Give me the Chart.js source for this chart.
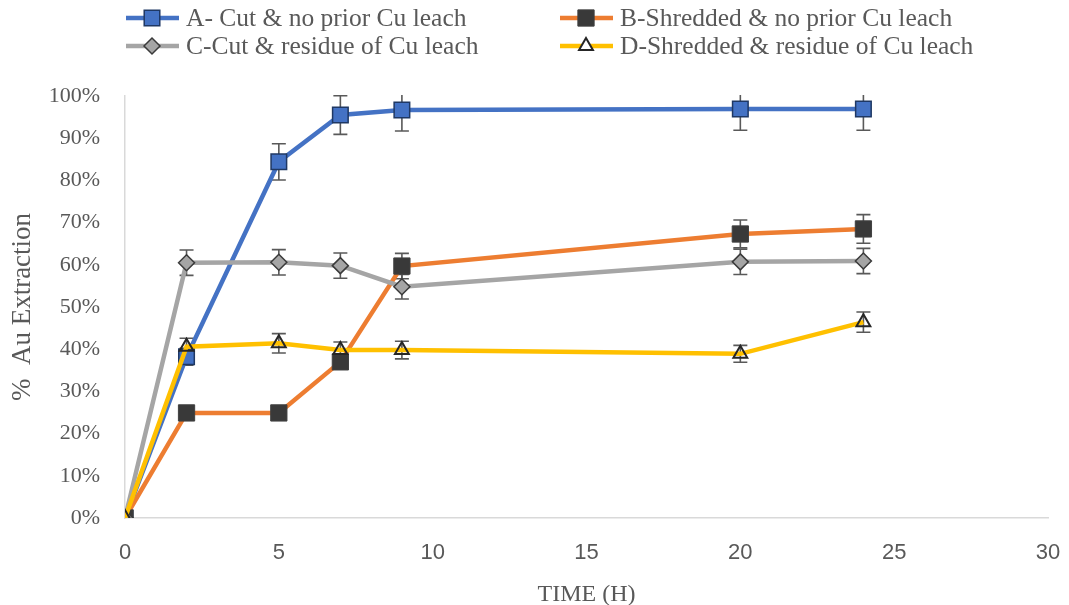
<!DOCTYPE html>
<html>
<head>
<meta charset="utf-8">
<script src="https://cdn.jsdelivr.net/npm/chart.js@4.4.1/dist/chart.umd.min.js"></script>
<style>
  html, body { margin: 0; padding: 0; background: #fff; }
  #wrap { width: 1069px; height: 605px; position: relative; }
</style>
</head>
<body>
<div id="wrap"><canvas id="extractionChart"></canvas></div>
<script>
// leach time (h) and % Au extraction
const timeHours = [0, 2, 5, 7, 9, 20, 24];
const cutNoLeach = [0, 38.2, 84.4, 95.5, 96.7, 96.9, 96.9];
const shreddedNoLeach = [0, 24.9, 24.9, 37.0, 59.7, 67.3, 68.5];
const cutResidue = [0, 60.5, 60.6, 59.8, 54.8, 60.7, 60.9];
const shreddedResidue = [0, 40.6, 41.4, 39.8, 39.8, 38.9, 46.4];

// error bar half-lengths (% points)
const errCutNoLeach = [0, 2, 4.3, 4.6, 5, 5, 5];
const errShreddedNoLeach = [0, 1, 1, 1, 3, 3.3, 3.4];
const errCutResidue = [0, 3, 3, 3, 2.9, 3, 3];
const errShreddedResidue = [0, 2, 2.3, 1.9, 2.1, 2, 2.4];

const seriesLabels = [
    'A- Cut & no prior Cu leach',
    'B-Shredded & no prior Cu leach',
    'C-Cut & residue of Cu leach',
    'D-Shredded & residue of Cu leach'
];
const xTicks = [0, 5, 10, 15, 20, 25, 30];
const yTicks = [0, 10, 20, 30, 40, 50, 60, 70, 80, 90, 100];

const serifFont = "'Liberation Serif', 'DejaVu Serif', serif";
const textGray = '#595959';

function toPoints(values) {
    return timeHours.map(function (t, i) { return { x: t, y: values[i] }; });
}

const errorBars = {
    id: 'errorBars',
    beforeDatasetsDraw(chart) {
        const ctx = chart.ctx;
        const xs = chart.scales.x;
        const ys = chart.scales.y;
        const area = chart.chartArea;
        ctx.save();
        ctx.beginPath();
        ctx.rect(area.left, area.top - 1, area.right - area.left, area.bottom - area.top + 2);
        ctx.clip();
        ctx.strokeStyle = textGray;
        ctx.lineWidth = 1.6;
        chart.data.datasets.forEach(function (ds) {
            ds.errors.forEach(function (e, i) {
                if (!e) return;
                const px = xs.getPixelForValue(timeHours[i]);
                const top = ys.getPixelForValue(ds.data[i].y + e);
                const bot = ys.getPixelForValue(ds.data[i].y - e);
                ctx.beginPath();
                ctx.moveTo(px, top); ctx.lineTo(px, bot);
                ctx.moveTo(px - 7, top); ctx.lineTo(px + 7, top);
                ctx.moveTo(px - 7, bot); ctx.lineTo(px + 7, bot);
                ctx.stroke();
            });
        });
        ctx.restore();
    }
};

// two-column legend like the original
const gridLegend = {
    id: 'gridLegend',
    afterDraw(chart) {
        const ctx = chart.ctx;
        const spots = [[126, 18], [560, 18], [126, 46], [560, 46]];
        ctx.save();
        chart.data.datasets.forEach(function (ds, i) {
            const x0 = spots[i][0], y0 = spots[i][1];
            ctx.strokeStyle = ds.borderColor;
            ctx.lineWidth = 4.5;
            ctx.beginPath();
            ctx.moveTo(x0, y0); ctx.lineTo(x0 + 53, y0);
            ctx.stroke();
            ctx.fillStyle = ds.pointBackgroundColor === 'transparent' ? '#ffffff' : ds.pointBackgroundColor;
            ctx.strokeStyle = ds.pointBorderColor;
            ctx.lineWidth = ds.pointBorderWidth;
            Chart.helpers.drawPoint(ctx, {
                pointStyle: ds.pointStyle, radius: ds.pointRadius,
                borderWidth: ds.pointBorderWidth, rotation: 0
            }, x0 + 26, y0);
            ctx.fillStyle = textGray;
            ctx.font = '25.5px ' + serifFont;
            ctx.textBaseline = 'middle';
            ctx.textAlign = 'left';
            ctx.fillText(ds.label, x0 + 60, y0 + 1);
        });
        ctx.restore();
    }
};

new Chart(document.getElementById('extractionChart'), {
    type: 'line',
    data: {
        datasets: [{
            label: seriesLabels[0],
            data: toPoints(cutNoLeach),
            errors: errCutNoLeach,
            borderColor: '#4472C4',
            borderWidth: 4.5,
            pointStyle: 'rect',
            pointRadius: 11,
            pointBackgroundColor: '#4472C4',
            pointBorderColor: '#1F3864',
            pointBorderWidth: 1.5,
            order: 4
        }, {
            label: seriesLabels[1],
            data: toPoints(shreddedNoLeach),
            errors: errShreddedNoLeach,
            borderColor: '#ED7D31',
            borderWidth: 4.5,
            pointStyle: 'rect',
            pointRadius: 11.5,
            pointBackgroundColor: '#393939',
            pointBorderColor: '#404040',
            pointBorderWidth: 1,
            order: 3
        }, {
            label: seriesLabels[2],
            data: toPoints(cutResidue),
            errors: errCutResidue,
            borderColor: '#A5A5A5',
            borderWidth: 4.5,
            pointStyle: 'rectRot',
            pointRadius: 8,
            pointBackgroundColor: '#A5A5A5',
            pointBorderColor: '#3A3A3A',
            pointBorderWidth: 1.5,
            order: 2
        }, {
            label: seriesLabels[3],
            data: toPoints(shreddedResidue),
            errors: errShreddedResidue,
            borderColor: '#FFC000',
            borderWidth: 4.5,
            pointStyle: 'triangle',
            pointRadius: 8,
            pointBackgroundColor: 'transparent',
            pointBorderColor: '#262626',
            pointBorderWidth: 2,
            order: 1
        }]
    },
    options: {
        responsive: true,
        maintainAspectRatio: false,
        animation: false,
        layout: { padding: { top: 96, right: 21, left: 0, bottom: 0 } },
        plugins: {
            legend: { display: false },
            tooltip: { enabled: false }
        },
        scales: {
            x: {
                type: 'linear',
                min: 0,
                max: 30,
                afterFit: function (scale) {
                    scale.height = 87;
                    scale.paddingLeft = 0;
                    scale.paddingRight = 0;
                },
                afterBuildTicks: function (scale) {
                    scale.ticks = xTicks.map(function (v) { return { value: v }; });
                },
                grid: { display: false, drawTicks: false },
                border: { display: true, color: '#D9D9D9', width: 1.5 },
                ticks: {
                    padding: 22,
                    color: textGray,
                    font: { family: "'Liberation Sans', sans-serif", size: 22 }
                },
                title: {
                    display: true,
                    text: 'TIME (H)',
                    color: textGray,
                    padding: { top: 4, bottom: -2 },
                    font: { family: serifFont, size: 24, lineHeight: 1 }
                }
            },
            y: {
                min: 0,
                max: 100,
                afterFit: function (scale) {
                    scale.width = 125;
                    scale.paddingTop = 0;
                    scale.paddingBottom = 0;
                },
                afterBuildTicks: function (scale) {
                    scale.ticks = yTicks.map(function (v) { return { value: v }; });
                },
                grid: { display: false, drawTicks: false },
                border: { display: true, color: '#D9D9D9', width: 1.5 },
                ticks: {
                    padding: 25,
                    color: textGray,
                    font: { family: serifFont, size: 22 },
                    callback: function (v) { return v + '%'; }
                },
                title: {
                    display: true,
                    text: '%  Au Extraction',
                    color: textGray,
                    padding: { top: 9, bottom: 4 },
                    font: { family: serifFont, size: 27, lineHeight: 1 }
                }
            }
        }
    },
    plugins: [errorBars, gridLegend]
});
</script>
</body>
</html>
